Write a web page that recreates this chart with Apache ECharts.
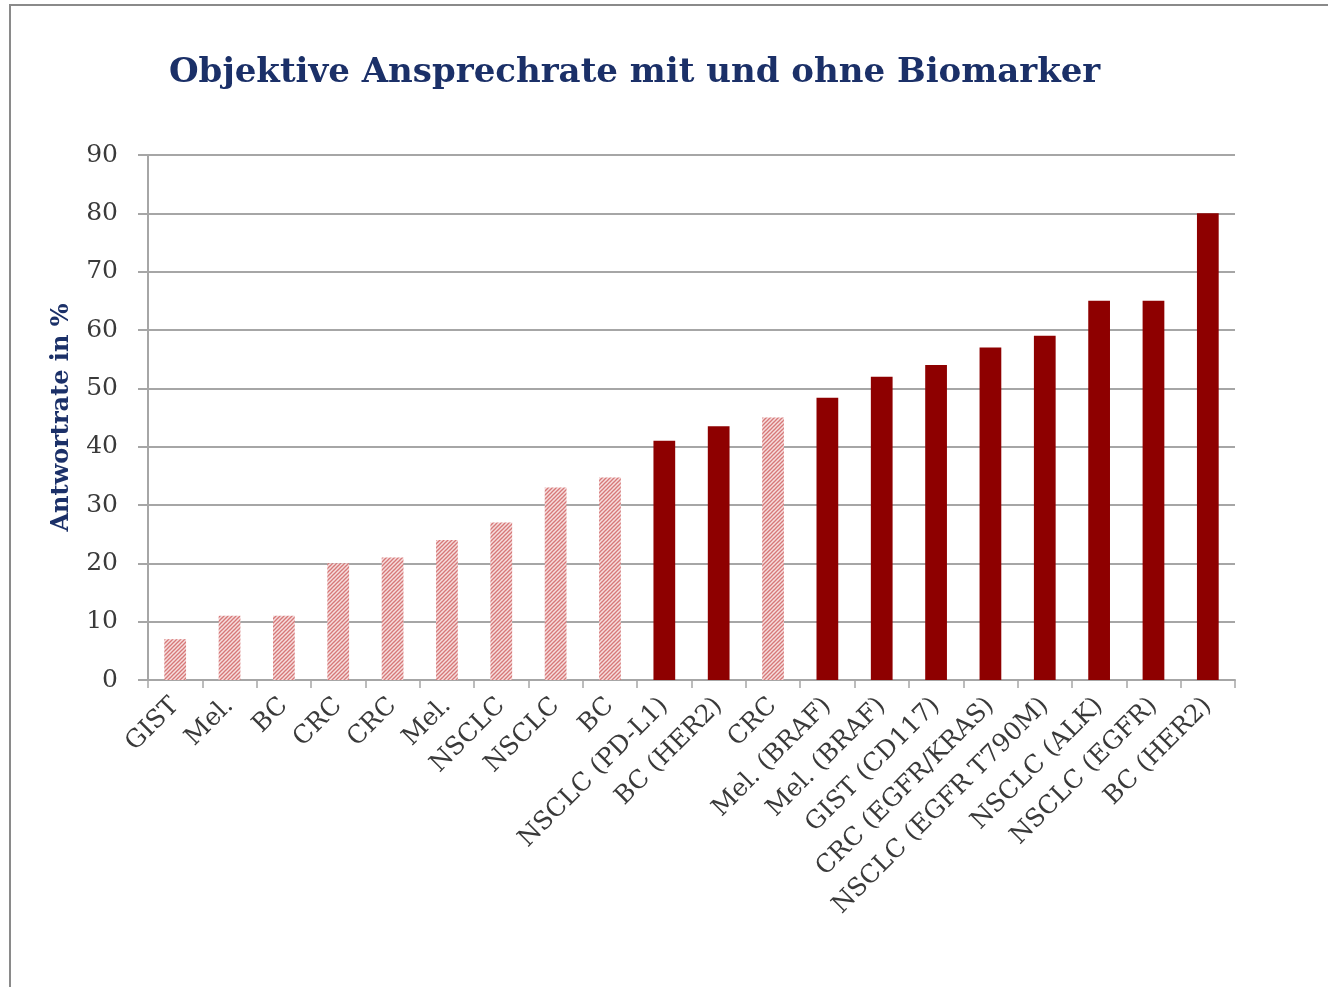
<!DOCTYPE html>
<html><head><meta charset="utf-8">
<script src="https://cdn.jsdelivr.net/npm/echarts@6/dist/echarts.min.js"></script>
<style>html,body{margin:0;padding:0;background:#fff}#c{width:1328px;height:987px}</style>
</head><body><div id="c"></div>
<script>
const categories = ["GIST","Mel.","BC","CRC","CRC","Mel.","NSCLC","NSCLC","BC","NSCLC (PD-L1)","BC (HER2)","CRC","Mel. (BRAF)","Mel. (BRAF)","GIST (CD117)","CRC (EGFR/KRAS)","NSCLC (EGFR T790M)","NSCLC (ALK)","NSCLC (EGFR)","BC (HER2)"];
const values = [7,11,11,20,21,24,27,33,34.7,41,43.5,45,48.4,52,54,57,59,65,65,80];
const withBiomarker = [false,false,false,false,false,false,false,false,false,true,true,false,true,true,true,true,true,true,true,true];
const yTicks = [0,10,20,30,40,50,60,70,80,90];

const pc = document.createElement('canvas');
pc.width = 4; pc.height = 4;
const g = pc.getContext('2d');
g.fillStyle = '#f6dede'; g.fillRect(0,0,4,4);
g.strokeStyle = '#d67878'; g.lineWidth = 1.3;
g.beginPath(); g.moveTo(-1,5); g.lineTo(5,-1); g.stroke();
g.beginPath(); g.moveTo(-1,1); g.lineTo(1,-1); g.stroke();
g.beginPath(); g.moveTo(3,5); g.lineTo(5,3); g.stroke();
const hatch = {image: pc, repeat: 'repeat'};

const chart = echarts.init(document.getElementById('c'), null, {renderer:'canvas'});
chart.setOption({
  animation:false,
  backgroundColor:'#fff',
  title:{text:'Objektive Ansprechrate mit und ohne Biomarker', left:164, top:51,
    textStyle:{fontFamily:'DejaVu Serif', fontWeight:'bold', fontSize:34, color:'#1b3068'}},
  grid:{left:148, right:93, top:155, bottom:307, containLabel:false},
  xAxis:{type:'category', data:categories,
    axisLine:{lineStyle:{color:'#a6a6a6', width:2}},
    axisTick:{show:true, length:8, lineStyle:{color:'#a6a6a6', width:1.5}},
    axisLabel:{rotate:45, interval:0, margin:22, fontFamily:'DejaVu Serif', fontSize:25, color:'#3a3a3a'}},
  yAxis:{type:'value', min:0, max:90, interval:10,
    name:'Antwortrate in %', nameLocation:'middle', nameGap:74,
    nameTextStyle:{fontFamily:'DejaVu Serif', fontWeight:'bold', fontSize:24, color:'#1b3068'},
    axisLine:{show:true, lineStyle:{color:'#a6a6a6', width:2}},
    axisTick:{show:true, length:10, lineStyle:{color:'#a6a6a6', width:2}},
    splitLine:{lineStyle:{color:'#a6a6a6', width:2}},
    axisLabel:{margin:30, fontFamily:'DejaVu Serif', fontSize:25, color:'#3a3a3a',
      formatter:v=>yTicks.includes(v)?String(v):''}},
  series:[{type:'bar', barWidth:'40%',
    data: values.map((v,i)=>({value:v, itemStyle:{color: withBiomarker[i] ? '#8e0000' : hatch}}))}],
  graphic:[{type:'rect', shape:{x:10,y:5,width:1330,height:1000}, style:{fill:'none', stroke:'#8a8a8a', lineWidth:2}, silent:true}]
});
</script></body></html>
